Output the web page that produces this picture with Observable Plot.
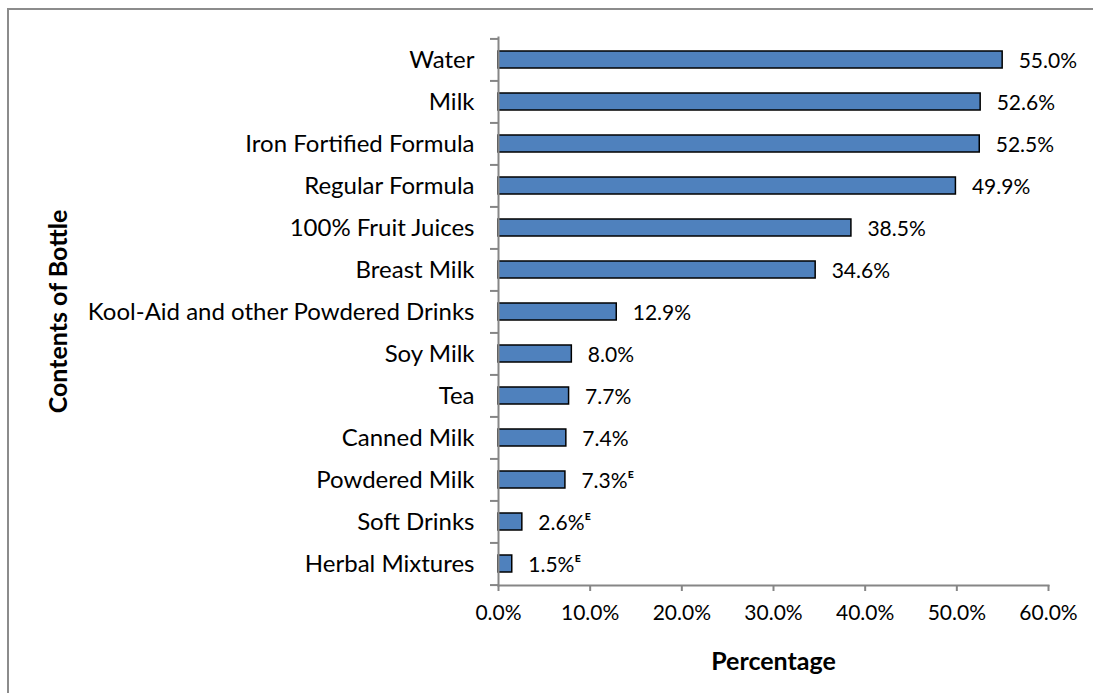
<!DOCTYPE html>
<html>
<head>
<meta charset="utf-8">
<script src="https://cdn.jsdelivr.net/npm/d3@7"></script>
<script src="https://cdn.jsdelivr.net/npm/@observablehq/plot@0.6"></script>
<style>
  html, body { margin: 0; padding: 0; background: #fff; overflow: hidden; }
  #wrap { position: relative; width: 1093px; height: 693px; }
  #border { position: absolute; left: 7px; top: 8px; width: 1200px; height: 800px;
            border-top: 2px solid #8c8c8c; border-left: 2px solid #8c8c8c; }
  #chart { position: absolute; left: 0; top: 0; }
</style>
</head>
<body>
<div id="wrap"><div id="border"></div><div id="chart"></div></div>
<script>
const categories = [
  "Water", "Milk", "Iron Fortified Formula", "Regular Formula", "100% Fruit Juices",
  "Breast Milk", "Kool-Aid and other Powdered Drinks", "Soy Milk", "Tea",
  "Canned Milk", "Powdered Milk", "Soft Drinks", "Herbal Mixtures"
];
const values = [55.0, 52.6, 52.5, 49.9, 38.5, 34.6, 12.9, 8.0, 7.7, 7.4, 7.3, 2.6, 1.5];
const flags = ["", "", "", "", "", "", "", "", "", "", "E", "E", "E"];
const xTicks = [0, 10, 20, 30, 40, 50, 60];

const data = categories.map((c, i) => ({category: c, value: values[i], flag: flags[i]}));

const W = 1093, H = 693;
const mT = 37, mB = 108, mL = 498, mR = 45;
const step = (H - mT - mB) / categories.length;
const font = "Lato, 'Open Sans', sans-serif";
const axisColor = "#868686";

const plot = Plot.plot({
  width: W,
  height: H,
  marginTop: mT,
  marginBottom: mB,
  marginLeft: mL,
  marginRight: mR,
  style: {fontFamily: font, fontSize: "21px", color: "#000", background: "transparent"},
  x: {domain: [0, 60], ticks: xTicks},
  y: {domain: categories, paddingInner: 0.6, paddingOuter: 0.3},
  marks: [
    Plot.barX(data, {x: "value", y: "category", fill: "#4F81BD", stroke: "#000", strokeWidth: 1.5}),
    Plot.text(data, {
      x: "value", y: "category",
      text: d => d.value.toFixed(1) + "%" + (d.flag ? "\u1D31" : ""),
      textAnchor: "start", dx: 16, dy: 1, fontSize: 21, fill: "#000"
    }),
    Plot.frame({anchor: "bottom", stroke: axisColor, strokeWidth: 2}),
    Plot.frame({anchor: "left", stroke: axisColor, strokeWidth: 2}),
    Plot.axisX({
      ticks: xTicks, tickSize: 6, tickPadding: 14, stroke: axisColor, strokeWidth: 2,
      tickFormat: d => d.toFixed(1) + "%", fontSize: 21, fill: "#000",
      label: null
    }),
    Plot.axisY({tickSize: 0, tickPadding: 24, fontSize: 24, fill: "#000", label: null}),
    Plot.axisY({tickSize: 8, text: null, dy: -step / 2, stroke: axisColor, strokeWidth: 2, label: null}),
    Plot.axisY([categories[categories.length - 1]], {tickSize: 8, text: null, dy: step / 2, stroke: axisColor, strokeWidth: 2, label: null}),
    Plot.text(["Percentage"], {
      frameAnchor: "bottom", textAnchor: "middle", dy: 84, text: d => d, fontWeight: "bold", fontSize: 25
    }),
    Plot.text(["Contents of Bottle"], {
      frameAnchor: "left", textAnchor: "middle", dx: -440, text: d => d, rotate: -90, fontWeight: "bold", fontSize: 25
    })
  ]
});
document.getElementById("chart").appendChild(plot);
</script>
</body>
</html>
